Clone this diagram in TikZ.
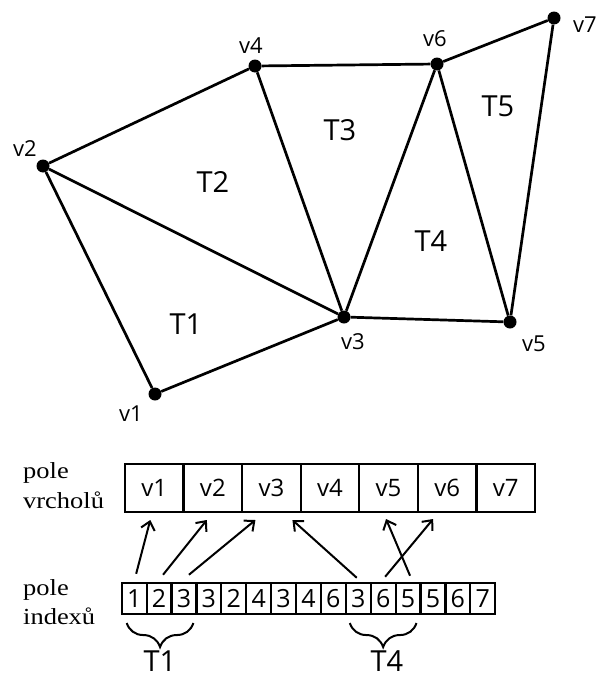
\documentclass[tikz,border=0pt]{standalone}
\usepackage{fontspec}
\setmainfont{Open Sans}
\newfontfamily\serifx[FakeStretch=1.15]{Liberation Serif}
\usetikzlibrary{arrows.meta,decorations.pathreplacing,calc}
\begin{document}
\begin{tikzpicture}[x=1pt,y=-1pt,
 dot/.style={circle,fill=black,inner sep=0pt,minimum size=13pt},
 edge/.style={line width=2.7pt},
 vlab/.style={inner sep=0pt,font=\fontsize{22}{26}\selectfont},
 tlab/.style={inner sep=0pt,font=\fontsize{29}{34}\selectfont},
 vcell/.style={draw,line width=2.4pt,minimum width=58.57pt,minimum height=48pt,inner sep=0pt,outer sep=0pt,font=\fontsize{24}{28}\selectfont},
 icell/.style={draw,line width=2.2pt,minimum width=24.9pt,minimum height=31.3pt,inner sep=0pt,outer sep=0pt,font=\fontsize{25}{30}\selectfont},
 ptr/.style={line width=2pt,-{Straight Barb[length=8pt,width=14pt,line width=2pt]}},
 side/.style={inner sep=0pt,anchor=base west,font=\serifx\fontsize{23}{27}\selectfont},
 brc/.style={line width=2pt,decorate,decoration={brace,mirror,amplitude=24pt,aspect=0.5}}
]
\useasboundingbox (0,0) rectangle (597,680);
% vertices
\node[dot] (v1) at (155,394) {};
\node[dot] (v2) at (43,166) {};
\node[dot] (v3) at (344,317) {};
\node[dot] (v4) at (255,66) {};
\node[dot] (v5) at (510,322) {};
\node[dot] (v6) at (437,64) {};
\node[dot] (v7) at (554,18) {};
% edges
\draw[edge] (v1) -- (v2);
\draw[edge] (v1) -- (v3);
\draw[edge] (v2) -- (v3);
\draw[edge] (v2) -- (v4);
\draw[edge] (v4) -- (v3);
\draw[edge] (v4) -- (v6);
\draw[edge] (v6) -- (v3);
\draw[edge] (v6) -- (v5);
\draw[edge] (v3) -- (v5);
\draw[edge] (v6) -- (v7);
\draw[edge] (v7) -- (v5);
% vertex labels
\node[vlab] (l1) at (131,414) {v1};
\node[vlab] (l2) at (25,149) {v2};
\node[vlab] (l3) at (353,342) {v3};
\node[vlab] (l4) at (251,46) {v4};
\node[vlab] (l5) at (534,344) {v5};
\node[vlab] (l6) at (435,39) {v6};
\node[vlab] (l7) at (585,25) {v7};
% triangle labels
\node[tlab] (t1) at (186,324) {T1};
\node[tlab] (t2) at (213,182) {T2};
\node[tlab] (t3) at (340,130) {T3};
\node[tlab] (t4) at (431,241) {T4};
\node[tlab] (t5) at (498,106) {T5};
% vertex array
\foreach \t [count=\i] in {v1,v2,v3,v4,v5,v6,v7}
  \node[vcell] (c\i) at ({125+58.571*(\i-0.5)},488) {\t};
% index array
\foreach \t [count=\i] in {1,2,3,3,2,4,3,4,6,3,6,5,5,6,7}
  \node[icell] (d\i) at ({121.7+24.9*(\i-0.5)},598.4) {\t};
% side labels
\node[side] (p1) at (23,478) {pole};
\node[side] (p2) at (23,508) {vrcholů};
\node[side] (p3) at (23,595) {pole};
\node[side] (p4) at (23,624) {indexů};
% pointers
\draw[ptr] ([xshift=2pt,yshift=9pt]d1.north) -- ([xshift=-4pt,yshift=-8pt]c1.south);
\draw[ptr] ([xshift=4pt,yshift=8pt]d2.north) -- ([xshift=-6pt,yshift=-8pt]c2.south);
\draw[ptr] ([xshift=5pt,yshift=8pt]d3.north) -- ([xshift=-16pt,yshift=-8pt]c3.south);
\draw[ptr] ([xshift=-1.5pt,yshift=5pt]d10.north) -- ([xshift=21pt,yshift=-8pt]c3.south);
\draw[ptr] ([xshift=2pt,yshift=6pt]d11.north) -- ([xshift=-14pt,yshift=-7pt]c6.south);
\draw[ptr] ([xshift=2pt,yshift=7pt]d12.north) -- ([xshift=-2.5pt,yshift=-7pt]c5.south);
% braces
\draw[brc] ([xshift=5pt,yshift=-9pt]d1.south west) -- ([xshift=-3pt,yshift=-9pt]d3.south east);
\draw[brc] ([xshift=4pt,yshift=-9pt]d10.south west) -- ([xshift=-4pt,yshift=-9pt]d12.south east);
\node[tlab] (b1) at (160,661) {T1};
\node[tlab] (b4) at (387,661) {T4};
\end{tikzpicture}
\end{document}
